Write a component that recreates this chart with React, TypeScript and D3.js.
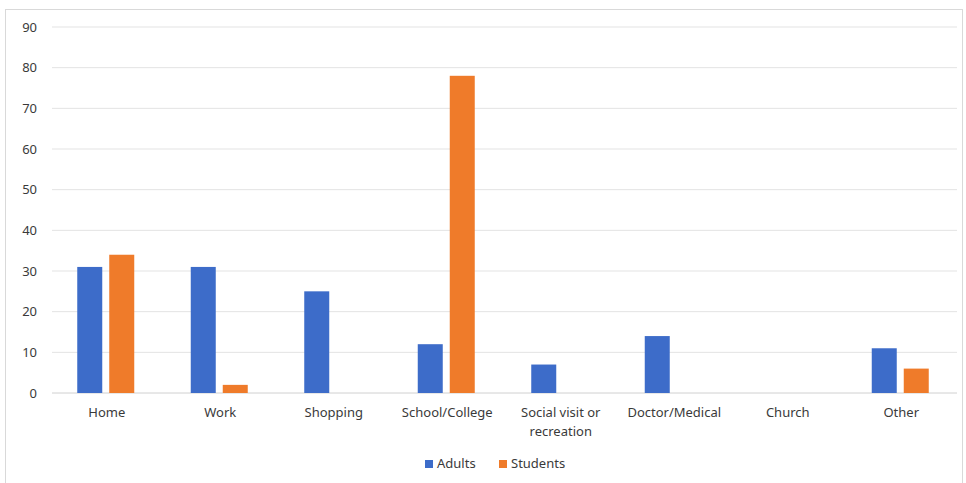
import React from "react";
import * as d3 from "d3";

const categories = ["Home", "Work", "Shopping", "School/College", "Social visit or recreation", "Doctor/Medical", "Church", "Other"];
const categoryLines = [["Home"], ["Work"], ["Shopping"], ["School/College"], ["Social visit or", "recreation"], ["Doctor/Medical"], ["Church"], ["Other"]];
const adults = [31, 31, 25, 12, 7, 14, 0, 11];
const students = [34, 2, 0, 78, 0, 0, 0, 6];
const yTicks = [0, 10, 20, 30, 40, 50, 60, 70, 80, 90];
const seriesNames = ["Adults", "Students"];
const seriesColors = ["#3d6cc9", "#ef7b2a"];

const W = 966;
const H = 483;
const FONT = "'Noto Sans', 'Open Sans', sans-serif";

export default function App() {
  const gridLeft = 52;
  const gridRight = 957;
  const top = 27;
  const bottom = 393;

  const x = d3.scaleBand<string>().domain(categories).range([49, 957]);
  const y = d3.scaleLinear().domain([0, 90]).range([bottom, top]);
  const barW = 25;
  const gap = 7;

  const series = [adults, students];

  return (
    <svg width={W} height={H} style={{ position: "absolute", left: 0, top: 0, background: "#fff" }}>
      <rect x={5.5} y={9.5} width={957} height={490} fill="#fff" stroke="#d9d9d9" strokeWidth={1} />
      {yTicks.map((t) => (
        <g key={t}>
          <line x1={gridLeft} x2={gridRight} y1={y(t)} y2={y(t)} stroke={t === 0 ? "#d0d0d0" : "#e3e3e3"} strokeWidth={1} />
          <text x={37} y={y(t)} dy="0.35em" textAnchor="end" fontFamily={FONT} fontSize={13} fill="#3a3a3a">
            {t}
          </text>
        </g>
      ))}
      {categories.map((c, i) => {
        const cx = (x(c) as number) + x.bandwidth() / 2;
        const groupW = barW * 2 + gap;
        return (
          <g key={c}>
            {series.map((s, si) => {
              const v = s[i];
              if (v <= 0) return null;
              const bx = cx - groupW / 2 + si * (barW + gap);
              return (
                <rect key={si} x={bx} y={y(v)} width={barW} height={y(0) - y(v)} fill={seriesColors[si]} />
              );
            })}
            {categoryLines[i].map((ln, li) => (
              <text key={li} x={cx + 1} y={417 + li * 19} textAnchor="middle" fontFamily={FONT} fontSize={13} fill="#3a3a3a">
                {ln}
              </text>
            ))}
          </g>
        );
      })}
      <g>
        {seriesNames.map((n, i) => {
          const lx = i === 0 ? 425 : 499;
          return (
            <g key={n}>
              <rect x={lx} y={460} width={8} height={8} fill={seriesColors[i]} />
              <text x={lx + 12} y={468} fontFamily={FONT} fontSize={13} fill="#3a3a3a">
                {n}
              </text>
            </g>
          );
        })}
      </g>
    </svg>
  );
}
